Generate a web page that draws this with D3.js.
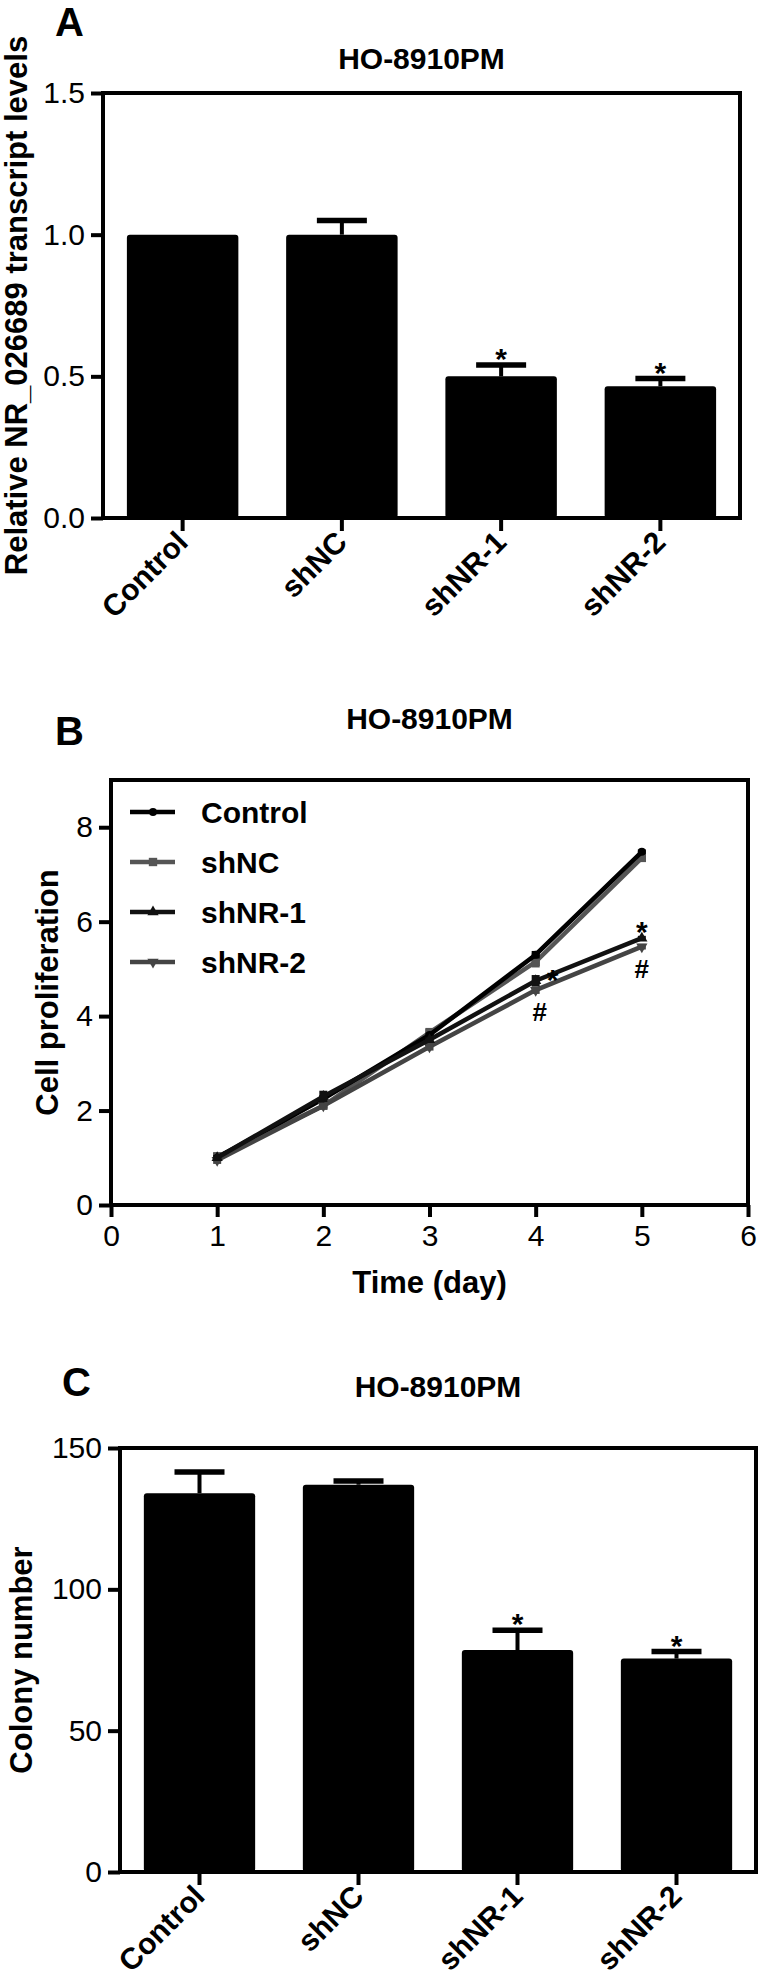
<!DOCTYPE html>
<html>
<head>
<meta charset="utf-8">
<script src="https://cdn.jsdelivr.net/npm/d3@7"></script>
<style>
  body { margin: 0; background: #fff; }
  svg { display: block; }
</style>
</head>
<body>
<div id="root"></div>
<script>
// values
const groups = ['Control', 'shNC', 'shNR-1', 'shNR-2']

const transcriptMean = [1.00, 1.00, 0.50, 0.465]
const transcriptErr = [0, 0.05, 0.04, 0.027]
const transcriptSig = ['', '', '*', '*']
const transcriptTicks = [0, 0.5, 1.0, 1.5]

const days = [1, 2, 3, 4, 5]
const dayTicks = [0, 1, 2, 3, 4, 5, 6]
const prolifTicks = [0, 2, 4, 6, 8]
const prolifControl = [1.00, 2.25, 3.60, 5.30, 7.48]
const prolifShNC = [1.02, 2.10, 3.65, 5.15, 7.35]
const prolifShNR1 = [1.00, 2.30, 3.50, 4.75, 5.65]
const prolifShNR2 = [0.95, 2.10, 3.35, 4.55, 5.47]
const prolifErrControl = [0.05, 0.08, 0.05, 0.08, 0.05]
const prolifErrShNC = [0.10, 0.06, 0.10, 0.12, 0.08]
const prolifErrShNR1 = [0.05, 0.12, 0.05, 0.12, 0.05]
const prolifErrShNR2 = [0.08, 0.06, 0.08, 0.08, 0.06]
const sigDays = [4, 5]

const colonyMean = [134, 137, 78.5, 75.5]
const colonyErr = [7.5, 1.3, 7, 2.5]
const colonySig = ['', '', '*', '*']
const colonyTicks = [0, 50, 100, 150]

const FONT = "'Liberation Sans', Arial, Helvetica, sans-serif"
const width = 760
const height = 1986

const svg = d3.select('#root').append('svg')
  .attr('width', width)
  .attr('height', height)
  .style('font-family', FONT)

svg.append('rect').attr('width', width).attr('height', height).attr('fill', '#fff')

function styleAxis(g) {
  g.select('.domain').remove()
  g.selectAll('.tick line').attr('stroke', '#000').attr('stroke-width', 4)
  g.selectAll('.tick text').attr('fill', '#000').style('font-size', '30px').style('font-family', FONT)
}

function frame(p) {
  svg.append('rect')
    .attr('x', p.left).attr('y', p.top)
    .attr('width', p.right - p.left).attr('height', p.bottom - p.top)
    .attr('fill', 'none').attr('stroke', '#000').attr('stroke-width', 4)
}

function headings(p) {
  svg.append('text').attr('x', p.letterX).attr('y', p.letterY)
    .style('font-size', '40px').style('font-weight', 'bold').text(p.letter)
  svg.append('text').attr('x', (p.left + p.right) / 2).attr('y', p.titleY)
    .attr('text-anchor', 'middle')
    .style('font-size', '30px').style('font-weight', 'bold').text('HO-8910PM')
  svg.append('text')
    .attr('transform', 'translate(' + p.yTitleX + ',' + (p.top + p.bottom) / 2 + ') rotate(-90)')
    .attr('text-anchor', 'middle')
    .style('font-size', '31px').style('font-weight', 'bold').text(p.yTitle)
}

function barPanel(p, means, errs, sig) {
  const x = d3.scaleBand().domain(groups).range([p.left, p.right]).paddingInner(0.3).paddingOuter(0.15)
  const y = d3.scaleLinear().domain([0, p.yMax]).range([p.bottom, p.top])
  const cx = d => x(d) + x.bandwidth() / 2

  svg.append('g').selectAll('rect')
    .data(groups)
    .enter()
    .append('rect')
    .attr('x', d => x(d))
    .attr('width', x.bandwidth())
    .attr('y', (d, i) => y(means[i]))
    .attr('height', (d, i) => y(0) - y(means[i]))
    .attr('rx', 3)
    .attr('fill', '#000')

  const err = svg.append('g').selectAll('g')
    .data(groups.filter((d, i) => errs[i] > 0))
    .enter()
    .append('g')
  err.append('line')
    .attr('x1', cx).attr('x2', cx)
    .attr('y1', d => y(means[groups.indexOf(d)]))
    .attr('y2', d => y(means[groups.indexOf(d)] + errs[groups.indexOf(d)]))
    .attr('stroke', '#000').attr('stroke-width', 4)
  err.append('line')
    .attr('x1', d => cx(d) - 25).attr('x2', d => cx(d) + 25)
    .attr('y1', d => y(means[groups.indexOf(d)] + errs[groups.indexOf(d)]))
    .attr('y2', d => y(means[groups.indexOf(d)] + errs[groups.indexOf(d)]))
    .attr('stroke', '#000').attr('stroke-width', 5.5)

  svg.append('g').selectAll('text')
    .data(groups.filter((d, i) => sig[i]))
    .enter()
    .append('text')
    .attr('x', cx)
    .attr('y', d => y(means[groups.indexOf(d)] + errs[groups.indexOf(d)]) + 4)
    .attr('text-anchor', 'middle')
    .style('font-size', '30px').style('font-weight', 'bold')
    .text(d => sig[groups.indexOf(d)])

  svg.append('g')
    .attr('transform', 'translate(' + p.left + ',0)')
    .call(d3.axisLeft(y).tickValues(p.ticks).tickFormat(p.fmt).tickSize(12).tickPadding(6))
    .call(styleAxis)

  svg.append('g')
    .attr('transform', 'translate(0,' + p.bottom + ')')
    .call(d3.axisBottom(x).tickSize(13).tickFormat(''))
    .call(styleAxis)

  svg.append('g').selectAll('text')
    .data(groups)
    .enter()
    .append('text')
    .attr('transform', d => 'translate(' + (cx(d) + 7) + ',' + (p.bottom + 26) + ') rotate(-45)')
    .attr('text-anchor', 'end')
    .style('font-size', '30px').style('font-weight', 'bold')
    .text(d => d)

  frame(p)
  headings(p)
}

// A: transcript levels
barPanel({
  left: 103, right: 740, top: 93, bottom: 518, yMax: 1.5,
  ticks: transcriptTicks, fmt: d3.format('.1f'),
  letter: 'A', letterX: 55, letterY: 36, titleY: 69,
  yTitle: 'Relative NR_026689 transcript levels', yTitleX: 27
}, transcriptMean, transcriptErr, transcriptSig)

// B: proliferation
const pB = {
  left: 111, right: 748, top: 780, bottom: 1205,
  letter: 'B', letterX: 55, letterY: 745, titleY: 729,
  yTitle: 'Cell proliferation', yTitleX: 58
}
const xB = d3.scaleLinear().domain([0, 6]).range([pB.left, pB.right])
const yB = d3.scaleLinear().domain([0, 9]).range([pB.bottom, pB.top])

const series = [
  { name: 'shNC', values: prolifShNC, errs: prolifErrShNC, color: '#555', symbol: d3.symbolSquare, size: 70 },
  { name: 'Control', values: prolifControl, errs: prolifErrControl, color: '#000', symbol: d3.symbolCircle, size: 50 },
  { name: 'shNR-2', values: prolifShNR2, errs: prolifErrShNR2, color: '#444', symbol: d3.symbolTriangle, size: 55, flip: true },
  { name: 'shNR-1', values: prolifShNR1, errs: prolifErrShNR1, color: '#111', symbol: d3.symbolTriangle, size: 55 }
]

const line = d3.line().x((d, i) => xB(days[i])).y(d => yB(d))

series.forEach(s => {
  const g = svg.append('g')
  g.append('path')
    .attr('d', line(s.values))
    .attr('fill', 'none').attr('stroke', s.color).attr('stroke-width', 4.5)
  g.selectAll('line')
    .data(s.values)
    .enter()
    .append('line')
    .attr('x1', (d, i) => xB(days[i])).attr('x2', (d, i) => xB(days[i]))
    .attr('y1', (d, i) => yB(d - s.errs[i])).attr('y2', (d, i) => yB(d + s.errs[i]))
    .attr('stroke', s.color).attr('stroke-width', 8)
  g.selectAll('path.pt')
    .data(s.values)
    .enter()
    .append('path')
    .attr('class', 'pt')
    .attr('d', d3.symbol().type(s.symbol).size(s.size))
    .attr('transform', (d, i) => 'translate(' + xB(days[i]) + ',' + yB(d) + ')' + (s.flip ? ' rotate(180)' : ''))
    .attr('fill', s.color)
})

// significance marks
svg.append('g').selectAll('text')
  .data(sigDays)
  .enter()
  .append('text')
  .attr('x', d => xB(d) + (d === 4 ? 17 : 0))
  .attr('y', d => yB(prolifShNR1[days.indexOf(d)]) + (d === 4 ? 9 : 4))
  .attr('text-anchor', 'middle')
  .style('font-size', '30px').style('font-weight', 'bold')
  .text('*')
svg.append('g').selectAll('text')
  .data(sigDays)
  .enter()
  .append('text')
  .attr('x', d => xB(d) + (d === 4 ? 4 : 0))
  .attr('y', d => yB(prolifShNR2[days.indexOf(d)]) + 31)
  .attr('text-anchor', 'middle')
  .style('font-size', '26px').style('font-weight', 'bold')
  .text('#')

svg.append('g')
  .attr('transform', 'translate(' + pB.left + ',0)')
  .call(d3.axisLeft(yB).tickValues(prolifTicks).tickFormat(d3.format('d')).tickSize(12).tickPadding(6))
  .call(styleAxis)
svg.append('g')
  .attr('transform', 'translate(0,' + pB.bottom + ')')
  .call(d3.axisBottom(xB).tickValues(dayTicks).tickFormat(d3.format('d')).tickSize(12).tickPadding(8))
  .call(styleAxis)

svg.append('text')
  .attr('x', (pB.left + pB.right) / 2).attr('y', 1293)
  .attr('text-anchor', 'middle')
  .style('font-size', '31px').style('font-weight', 'bold')
  .text('Time (day)')

// legend
const legendOrder = ['Control', 'shNC', 'shNR-1', 'shNR-2']
const legend = svg.append('g').selectAll('g')
  .data(legendOrder.map(n => series.find(s => s.name === n)))
  .enter()
  .append('g')
  .attr('transform', (d, i) => 'translate(130,' + (812 + i * 50) + ')')
legend.append('line')
  .attr('x1', 0).attr('x2', 45)
  .attr('stroke', d => d.color).attr('stroke-width', 4.5)
legend.append('path')
  .attr('d', d => d3.symbol().type(d.symbol).size(d.size)())
  .attr('transform', d => 'translate(23,0)' + (d.flip ? ' rotate(180)' : ''))
  .attr('fill', d => d.color)
legend.append('text')
  .attr('x', 71).attr('y', 11)
  .style('font-size', '30px').style('font-weight', 'bold')
  .text(d => d.name)

frame(pB)
headings(pB)

// C: colony number
barPanel({
  left: 120, right: 756, top: 1448, bottom: 1872, yMax: 150,
  ticks: colonyTicks, fmt: d3.format('d'),
  letter: 'C', letterX: 62, letterY: 1396, titleY: 1397,
  yTitle: 'Colony number', yTitleX: 32
}, colonyMean, colonyErr, colonySig)
</script>
</body>
</html>
